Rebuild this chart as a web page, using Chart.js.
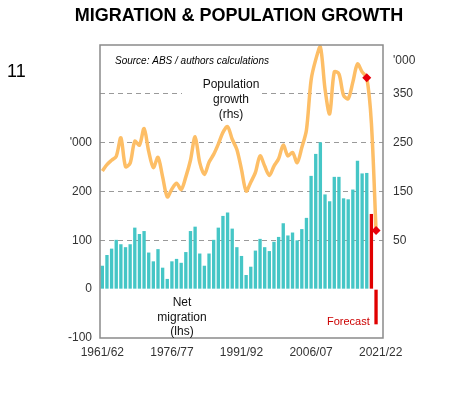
<!DOCTYPE html>
<html>
<head>
<meta charset="utf-8">
<script src="https://cdn.jsdelivr.net/npm/chart.js@4.4.0/dist/chart.umd.min.js"></script>
<style>
  html, body { margin: 0; padding: 0; background: #fff; }
</style>
</head>
<body>
<canvas id="chart" width="457" height="395"></canvas>
<script>
// financial years 1961/62 .. 2021/22
const years = [];
for (let y = 1961; y <= 2021; y++) {
    years.push(y + '/' + String((y + 1) % 100).padStart(2, '0'));
}

// net overseas migration, '000 (lhs)
const netMigration = [
    48, 70, 83, 101, 92, 86, 92, 126, 113, 119,
    75, 57, 82, 44, 21, 57, 62, 54, 76, 119,
    128, 73, 48, 73, 101, 126, 150, 157, 124, 86,
    68, 29, 46, 79, 103, 86, 78, 97, 107, 135,
    110, 116, 100, 123, 146, 232, 277, 301, 194, 180,
    230, 230, 186, 184, 204, 263, 237, 238, 154, -72,
    null
];

// population growth, '000 (rhs)
const popGrowth = [
    192, 205, 214, 222, 260, 201, 208, 253, 245, 279,
    232, 199, 220, 180, 139, 155, 167, 154, 180, 214,
    262, 209, 185, 210, 226, 247, 271, 283, 257, 236,
    195, 151, 169, 189, 223, 202, 183, 202, 217, 245,
    223, 230, 209, 240, 276, 378, 420, 446, 360, 309,
    395, 391, 347, 340, 374, 411, 395, 383, 290, 70,
    null
];

const forecastYears = ['2019/20', '2020/21'];
const markerYears = ['2018/19', '2020/21'];
const xTickLabels = ['1961/62', '1976/77', '1991/92', '2006/07', '2021/22'];
const leftTicks = [-100, 0, 100, 200];
const leftUnitTick = 300;
const rightTicks = [50, 150, 250, 350];
const gridValues = [100, 200, 300, 400];

const FONT = "'Liberation Sans', Arial, sans-serif";
Chart.defaults.font.family = FONT;
Chart.defaults.font.size = 12;
Chart.defaults.color = '#333';

// titles, notes and plot frame
const textPlugin = {
    id: 'texts',
    afterDraw(chart) {
        const c = chart.ctx;
        const a = chart.chartArea;
        c.save();

        c.strokeStyle = '#8a8a8a';
        c.lineWidth = 1.5;
        c.strokeRect(a.left, a.top, a.right - a.left, a.bottom - a.top);

        c.fillStyle = '#000';
        c.textBaseline = 'middle';
        c.textAlign = 'center';
        c.font = 'bold 18px ' + FONT;
        c.fillText('MIGRATION & POPULATION GROWTH', 239, 16);

        c.textAlign = 'left';
        c.font = '18px ' + FONT;
        c.fillText('11', 7, 72);

        c.font = 'italic 10px ' + FONT;
        c.fillText('Source: ABS / authors calculations', 115, 61);

        c.fillStyle = '#333';
        c.font = '12px ' + FONT;
        c.fillText("'000", a.right + 10, 61);

        // population growth label with white box
        c.fillStyle = '#fff';
        c.fillRect(182, 77, 80, 46);
        c.fillStyle = '#111';
        c.textAlign = 'center';
        c.font = '12px ' + FONT;
        c.fillText('Population', 231, 85);
        c.fillText('growth', 231, 100);
        c.fillText('(rhs)', 231, 115);

        c.fillText('Net', 182, 303);
        c.fillText('migration', 182, 318);
        c.fillText('(lhs)', 182, 332);

        c.fillStyle = '#cc0000';
        c.textAlign = 'left';
        c.font = '11px ' + FONT;
        c.fillText('Forecast', 327, 322);

        c.restore();
    }
};

const ctx = document.getElementById('chart').getContext('2d');
new Chart(ctx, {
    data: {
        labels: years,
        datasets: [
            {
                type: 'line',
                label: 'Population growth',
                data: popGrowth,
                yAxisID: 'y1',
                borderColor: '#FDBE66',
                borderWidth: 3.5,
                tension: 0.3,
                order: 0,
                pointStyle: 'rectRot',
                pointRadius: c => markerYears.includes(years[c.dataIndex]) ? 4.5 : 0,
                pointBackgroundColor: '#E8000B',
                pointBorderColor: '#E8000B',
                pointBorderWidth: 0
            },
            {
                type: 'bar',
                label: 'Net migration',
                data: netMigration,
                yAxisID: 'y',
                backgroundColor: years.map(y => forecastYears.includes(y) ? '#E00000' : '#45C6C6'),
                barPercentage: 0.72,
                categoryPercentage: 1,
                order: 1
            }
        ]
    },
    options: {
        responsive: false,
        animation: false,
        layout: { padding: { top: 45, left: 0, right: 0, bottom: 0 } },
        plugins: {
            legend: { display: false },
            tooltip: { enabled: false }
        },
        scales: {
            x: {
                grid: { display: false, drawTicks: false },
                border: { display: false },
                ticks: {
                    autoSkip: false,
                    maxRotation: 0,
                    padding: 7,
                    color: '#333',
                    callback: (v, i) => xTickLabels.includes(years[i]) ? years[i] : ''
                },
                afterFit: s => { s.height = 57; }
            },
            y: {
                position: 'left',
                min: -100,
                max: 500,
                ticks: {
                    stepSize: 100,
                    padding: 8,
                    color: '#333',
                    callback: v => v === leftUnitTick ? "'000" : (leftTicks.includes(v) ? String(v) : '')
                },
                grid: {
                    drawTicks: false,
                    lineWidth: 1,
                    color: c => gridValues.includes(c.tick && c.tick.value) ? '#9a9a9a' : 'rgba(0,0,0,0)'
                },
                border: { display: false, dash: [5, 4] },
                afterFit: s => { s.width = 100; }
            },
            y1: {
                position: 'right',
                min: -150,
                max: 450,
                ticks: {
                    stepSize: 100,
                    padding: 10,
                    color: '#333',
                    callback: v => rightTicks.includes(v) ? String(v) : ''
                },
                grid: { display: false, drawTicks: false },
                border: { display: false },
                afterFit: s => { s.width = 74; }
            }
        }
    },
    plugins: [textPlugin]
});
</script>
</body>
</html>
